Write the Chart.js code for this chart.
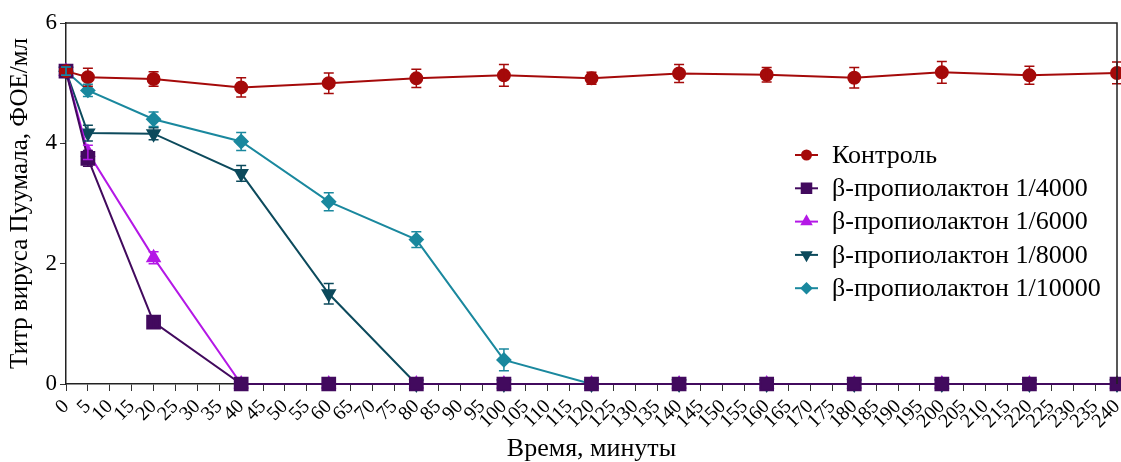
<!DOCTYPE html>
<html>
<head>
<meta charset="utf-8">
<script src="https://cdn.jsdelivr.net/npm/chart.js@4/dist/chart.umd.min.js"></script>
<style>
  html, body { margin: 0; padding: 0; background: #fff; }
  #wrap { width: 1121px; height: 462px; }
</style>
</head>
<body>
<div id="wrap"><canvas id="chart"></canvas></div>
<script>
// время отбора проб, минуты
const times = [0, 5, 20, 40, 60, 80, 100, 120, 140, 160, 180, 200, 220, 240];

// титры (среднее) по сериям
const control   = [5.2, 5.1, 5.07, 4.93, 5.0, 5.08, 5.13, 5.08, 5.16, 5.14, 5.09, 5.18, 5.13, 5.17];
const bpl4000   = [5.2, 3.75, 1.03, 0, 0, 0, 0, 0, 0, 0, 0, 0, 0, 0];
const bpl6000   = [5.2, 3.85, 2.1, 0, 0, 0, 0, 0, 0, 0, 0, 0, 0, 0];
const bpl8000   = [5.2, 4.17, 4.16, 3.5, 1.5, 0, 0, 0, 0, 0, 0, 0, 0, 0];
const bpl10000  = [5.2, 4.88, 4.4, 4.03, 3.03, 2.4, 0.4, 0, 0, 0, 0, 0, 0, 0];

// погрешности
const controlErr  = [0.07, 0.15, 0.12, 0.16, 0.17, 0.15, 0.18, 0.1, 0.15, 0.12, 0.17, 0.18, 0.15, 0.18];
const bpl4000Err  = [0.07, 0.13, 0.1, 0, 0, 0, 0, 0, 0, 0, 0, 0, 0, 0];
const bpl6000Err  = [0.07, 0.12, 0.1, 0, 0, 0, 0, 0, 0, 0, 0, 0, 0, 0];
const bpl8000Err  = [0.07, 0.13, 0.1, 0.13, 0.17, 0, 0, 0, 0, 0, 0, 0, 0, 0];
const bpl10000Err = [0.07, 0.1, 0.12, 0.15, 0.15, 0.13, 0.18, 0, 0, 0, 0, 0, 0, 0];

const seriesNames = ['Контроль', 'β-пропиолактон 1/4000', 'β-пропиолактон 1/6000', 'β-пропиолактон 1/8000', 'β-пропиолактон 1/10000'];

const FONT = '"Liberation Serif", "DejaVu Serif", serif';

function pts(vals) {
    return vals.map((v, i) => ({ x: times[i], y: v }));
}

const styles = [
    { color: '#a50a0a', point: 'circle', r: 6, rot: 0 },
    { color: '#420a5e', point: 'rect', r: 9, rot: 0 },
    { color: '#b418e6', point: 'triangle', r: 7, rot: 0 },
    { color: '#0c4a5c', point: 'triangle', r: 7, rot: 180 },
    { color: '#1a889e', point: 'rectRot', r: 6.5, rot: 0 }
];
const values = [control, bpl4000, bpl6000, bpl8000, bpl10000];
const errors = [controlErr, bpl4000Err, bpl6000Err, bpl8000Err, bpl10000Err];

const datasets = values.map((v, i) => ({
    label: seriesNames[i],
    data: pts(v),
    errors: errors[i],
    borderColor: styles[i].color,
    backgroundColor: styles[i].color,
    pointBackgroundColor: styles[i].color,
    pointBorderColor: styles[i].color,
    pointStyle: styles[i].point,
    pointRadius: styles[i].r,
    pointRotation: styles[i].rot,
    borderWidth: 2,
    tension: 0,
    clip: false
}));

// усы погрешностей
const errorBars = {
    id: 'errorBars',
    afterDatasetsDraw(chart) {
        const ctx = chart.ctx;
        const ys = chart.scales.y;
        chart.data.datasets.forEach((ds, i) => {
            const meta = chart.getDatasetMeta(i);
            ctx.save();
            ctx.strokeStyle = ds.borderColor;
            ctx.lineWidth = 1.5;
            meta.data.forEach((p, j) => {
                const e = ds.errors[j];
                if (!e) return;
                const v = ds.data[j].y;
                const top = ys.getPixelForValue(v + e);
                const bot = ys.getPixelForValue(v - e);
                ctx.beginPath();
                ctx.moveTo(p.x, top); ctx.lineTo(p.x, bot);
                ctx.moveTo(p.x - 5, top); ctx.lineTo(p.x + 5, top);
                ctx.moveTo(p.x - 5, bot); ctx.lineTo(p.x + 5, bot);
                ctx.stroke();
            });
            ctx.restore();
        });
    }
};

// рамка и легенда внутри области графика
const frameLegend = {
    id: 'frameLegend',
    afterDraw(chart) {
        const ctx = chart.ctx;
        const a = chart.chartArea;
        ctx.save();
        ctx.strokeStyle = '#222';
        ctx.lineWidth = 1.5;
        ctx.beginPath();
        ctx.moveTo(a.left, a.top);
        ctx.lineTo(a.right, a.top);
        ctx.lineTo(a.right, a.bottom);
        ctx.stroke();

        const x0 = 795, y0 = 155, step = 33.3;
        ctx.font = '26px ' + FONT;
        ctx.textBaseline = 'middle';
        chart.data.datasets.forEach((ds, i) => {
            const y = y0 + i * step;
            ctx.strokeStyle = ds.borderColor;
            ctx.lineWidth = 2;
            ctx.beginPath();
            ctx.moveTo(x0, y); ctx.lineTo(x0 + 23, y);
            ctx.stroke();
            ctx.fillStyle = ds.borderColor;
            Chart.helpers.drawPoint(ctx, {
                pointStyle: ds.pointStyle,
                radius: ds.pointRadius * 0.75,
                rotation: ds.pointRotation,
                borderWidth: 1
            }, x0 + 11.5, y);
            ctx.fillStyle = '#000';
            ctx.fillText(ds.label, x0 + 37, y + 1);
        });
        ctx.restore();
    }
};

new Chart(document.getElementById('chart'), {
    type: 'line',
    data: { datasets: datasets },
    plugins: [errorBars, frameLegend],
    options: {
        responsive: true,
        maintainAspectRatio: false,
        animation: false,
        layout: { autoPadding: false, padding: { top: 23, right: 4, left: 0, bottom: 0 } },
        plugins: {
            legend: { display: false },
            tooltip: { enabled: false }
        },
        scales: {
            x: {
                type: 'linear',
                min: 0,
                max: 240,
                afterFit(scale) {
                    scale.height = 78;
                    scale.paddingRight = 0;
                },
                ticks: {
                    stepSize: 5,
                    autoSkip: false,
                    minRotation: 45,
                    maxRotation: 45,
                    color: '#000',
                    padding: 4,
                    font: { family: FONT, size: 20 }
                },
                grid: { drawOnChartArea: false, drawTicks: true, tickLength: 7, color: '#333' },
                border: { color: '#222', width: 1.5 },
                title: {
                    display: true,
                    text: 'Время, минуты',
                    color: '#000',
                    padding: { top: 0, bottom: 0 },
                    font: { family: FONT, size: 26, lineHeight: 1 }
                }
            },
            y: {
                min: 0,
                max: 6,
                afterFit(scale) { scale.width = 66; },
                ticks: {
                    stepSize: 2,
                    color: '#000',
                    padding: 3,
                    font: { family: FONT, size: 23 }
                },
                grid: { drawOnChartArea: false, drawTicks: true, tickLength: 6, color: '#333' },
                border: { color: '#222', width: 1.5 },
                title: {
                    display: true,
                    text: 'Титр вируса Пуумала, ФОЕ/мл',
                    color: '#000',
                    padding: { top: 8, bottom: 0 },
                    font: { family: FONT, size: 25, lineHeight: 1 }
                }
            }
        }
    }
});
</script>
</body>
</html>
